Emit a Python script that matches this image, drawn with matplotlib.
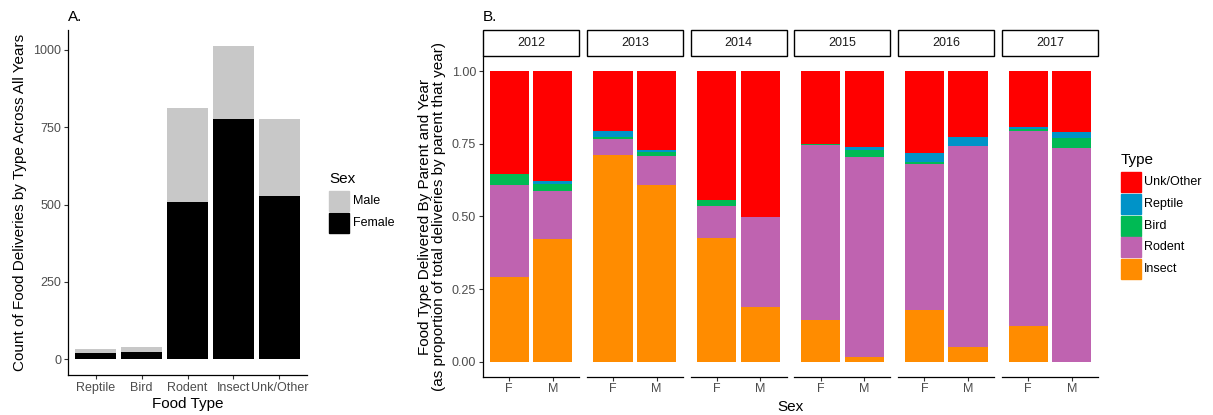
import matplotlib
matplotlib.use("Agg")
import matplotlib.pyplot as plt
import numpy as np
from matplotlib.patches import Rectangle

plt.rcParams['font.family'] = ['Liberation Sans', 'DejaVu Sans']

# ---------------- Data ----------------
food_types = ["Reptile", "Bird", "Rodent", "Insect", "Unk/Other"]
female_counts = [19, 24, 508, 778, 527]
male_counts = [13, 15, 304, 235, 251]

years = ["2012", "2013", "2014", "2015", "2016", "2017"]
sexes = ["F", "M"]
# proportions per year: [F, M]
insect = [[0.291, 0.422], [0.710, 0.607], [0.426, 0.189], [0.144, 0.016], [0.179, 0.050], [0.124, 0.000]]
rodent = [[0.316, 0.164], [0.055, 0.101], [0.110, 0.308], [0.601, 0.687], [0.501, 0.692], [0.669, 0.735]]
bird = [[0.038, 0.026], [0.010, 0.014], [0.021, 0.000], [0.004, 0.026], [0.007, 0.000], [0.007, 0.035]]
reptile = [[0.000, 0.009], [0.018, 0.007], [0.000, 0.000], [0.000, 0.009], [0.033, 0.030], [0.006, 0.020]]
unk_other = [[0.355, 0.379], [0.207, 0.271], [0.443, 0.503], [0.251, 0.262], [0.280, 0.228], [0.194, 0.210]]

type_names = ["Insect", "Rodent", "Bird", "Reptile", "Unk/Other"]
type_colors = {"Insect": "#FF8C00", "Rodent": "#BF63B0", "Bird": "#00BA54",
               "Reptile": "#0093C8", "Unk/Other": "#FF0000"}

W, H = 1213, 415
fig = plt.figure(figsize=(W / 100, H / 100), dpi=100)


def px_axes(x0, y0, x1, y1):
    return fig.add_axes([x0 / W, 1 - y1 / H, (x1 - x0) / W, (y1 - y0) / H])


TICK_COL = "#4D4D4D"
TICK_FS = 9
TITLE_FS = 11

# ---------------- Panel A ----------------
axA = px_axes(68, 30.3, 307, 375)
xA = np.arange(1, len(food_types) + 1)
axA.bar(xA, female_counts, width=0.9, color="black", label="Female")
axA.bar(xA, male_counts, width=0.9, bottom=female_counts, color="#C8C8C8", label="Male")
ymaxA = max(f + m for f, m in zip(female_counts, male_counts))
axA.set_xlim(0.4, len(food_types) + 0.6)
axA.set_ylim(-0.05 * ymaxA, 1.05 * ymaxA)
axA.set_yticks([0, 250, 500, 750, 1000])
axA.set_xticks(xA)
axA.set_xticklabels(food_types)
for s in ["top", "right"]:
    axA.spines[s].set_visible(False)
for s in ["left", "bottom"]:
    axA.spines[s].set_linewidth(0.9)
axA.tick_params(colors="#333333", labelcolor=TICK_COL, labelsize=TICK_FS, length=3, width=0.8, pad=2)
axA.set_xlabel("Food Type", fontsize=TITLE_FS, labelpad=2)
axA.set_ylabel("Count of Food Deliveries by Type Across All Years", fontsize=TITLE_FS, labelpad=4)
fig.text(68 / W, 1 - 17 / H, "A.", fontsize=TITLE_FS, va="center", ha="left")

# Legend A
fig.text(329 / W, 1 - 179 / H, "Sex", fontsize=TITLE_FS, va="center", ha="left")
for i, (lab, col) in enumerate([("Male", "#C8C8C8"), ("Female", "black")]):
    y0 = 191 + i * 22
    fig.patches.append(Rectangle((329 / W, 1 - (y0 + 20) / H), 20 / W, 20 / H,
                                 transform=fig.transFigure, color=col, figure=fig))
    fig.text(353 / W, 1 - (y0 + 10) / H, lab, fontsize=TICK_FS, va="center", ha="left")

# ---------------- Panel B ----------------
facet_x0 = [483, 586.8, 690.6, 794.4, 898.2, 1002]
facet_w = 96
py0, py1 = 56.5, 376.5
xB = np.arange(1, len(sexes) + 1)
series = {"Insect": insect, "Rodent": rodent, "Bird": bird, "Reptile": reptile, "Unk/Other": unk_other}
for k, yr in enumerate(years):
    x0 = facet_x0[k]
    ax = px_axes(x0, py0, x0 + facet_w, py1)
    bottom = np.zeros(len(sexes))
    for t in type_names:
        vals = np.array(series[t][k])
        ax.bar(xB, vals, width=0.9, bottom=bottom, color=type_colors[t], linewidth=0)
        bottom = bottom + vals
    ax.set_xlim(0.4, 2.6)
    ax.set_ylim(-0.05, 1.05)
    ax.set_xticks(xB)
    ax.set_xticklabels(sexes)
    ax.set_yticks([0, 0.25, 0.5, 0.75, 1.0])
    for s in ["top", "right"]:
        ax.spines[s].set_visible(False)
    ax.spines["bottom"].set_linewidth(0.9)
    ax.spines["left"].set_linewidth(0.9)
    ax.tick_params(colors="#333333", labelcolor=TICK_COL, labelsize=TICK_FS, length=3, width=0.8, pad=2)
    if k == 0:
        ax.set_yticklabels(["0.00", "0.25", "0.50", "0.75", "1.00"])
        ax.set_ylabel("Food Type Delivered By Parent and Year\n(as proportion of total deliveries by parent that year)",
                      fontsize=TITLE_FS, labelpad=4, linespacing=1.0)
    else:
        ax.spines["left"].set_visible(False)
        ax.tick_params(axis="y", left=False, labelleft=False)
    # strip
    fig.patches.append(Rectangle((x0 / W, 1 - 56 / H), facet_w / W, 26 / H,
                                 transform=fig.transFigure, facecolor="white",
                                 edgecolor="black", linewidth=1.0, figure=fig))
    fig.text((x0 + facet_w / 2) / W, 1 - 43 / H, yr, fontsize=TICK_FS, color="#1A1A1A",
             ha="center", va="center")

fig.text(483 / W, 1 - 17 / H, "B.", fontsize=TITLE_FS, va="center", ha="left")
fig.text(790 / W, 1 - 407 / H, "Sex", fontsize=TITLE_FS, va="center", ha="center")

# Legend B
fig.text(1121 / W, 1 - 160 / H, "Type", fontsize=TITLE_FS, va="center", ha="left")
for i, t in enumerate(["Unk/Other", "Reptile", "Bird", "Rodent", "Insect"]):
    y0 = 172 + i * 21.8
    fig.patches.append(Rectangle((1121 / W, 1 - (y0 + 20) / H), 20 / W, 20 / H,
                                 transform=fig.transFigure, color=type_colors[t], figure=fig))
    fig.text(1144 / W, 1 - (y0 + 10) / H, t, fontsize=TICK_FS, va="center", ha="left")

fig.savefig("out.png", dpi=100, facecolor="white")
